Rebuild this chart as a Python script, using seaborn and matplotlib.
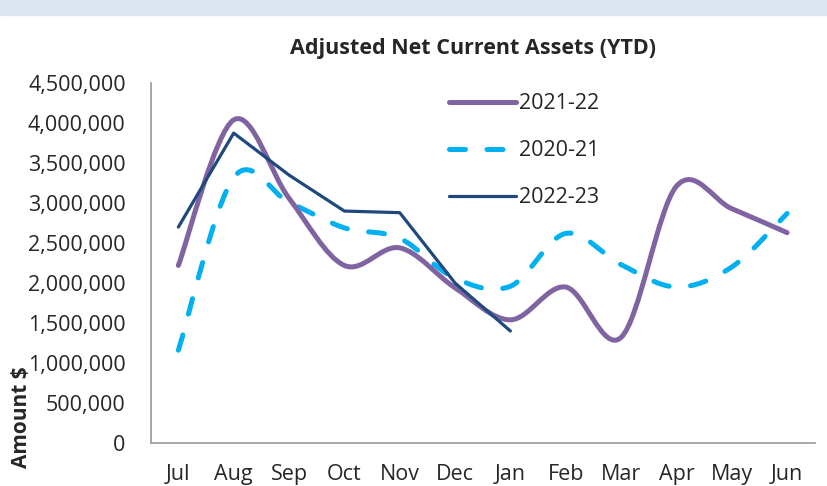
import numpy as np
import matplotlib
matplotlib.use('Agg')
import matplotlib.pyplot as plt
from matplotlib.path import Path
from matplotlib.patches import PathPatch, Rectangle
from matplotlib.lines import Line2D
import seaborn as sns

months = ['Jul', 'Aug', 'Sep', 'Oct', 'Nov', 'Dec', 'Jan', 'Feb', 'Mar', 'Apr', 'May', 'Jun']
fy2122 = [2220000, 4040000, 3060000, 2220000, 2440000, 1940000, 1540000, 1950000, 1320000, 3210000, 2930000, 2630000]
fy2021 = [1160000, 3320000, 3010000, 2690000, 2560000, 2060000, 1960000, 2620000, 2230000, 1950000, 2200000, 2870000]
fy2223 = [2700000, 3875000, 3350000, 2900000, 2880000, 2000000, 1400000]
yticks = [0, 500000, 1000000, 1500000, 2000000, 2500000, 3000000, 3500000, 4000000, 4500000]


def smooth_path(xs, ys):
    # Excel style smoothed line: cubic bezier through each point
    pts = np.column_stack([xs, ys]).astype(float)
    n = len(pts)
    verts = [pts[0]]
    codes = [Path.MOVETO]
    for i in range(n - 1):
        p0 = pts[max(i - 1, 0)]
        p1 = pts[i]
        p2 = pts[i + 1]
        p3 = pts[min(i + 2, n - 1)]
        c1 = p1 + (p2 - p0) / 6.0
        c2 = p2 - (p3 - p1) / 6.0
        verts += [c1, c2, p2]
        codes += [Path.CURVE4] * 3
    return Path(verts, codes)


sns.set_style('white')
plt.rcParams['font.family'] = ['Open Sans', 'DejaVu Sans']
plt.rcParams['lines.scale_dashes'] = False

purple = '#8064A2'
cyan = '#00B0F0'
navy = '#1F497D'

fig = plt.figure(figsize=(8.28, 4.86), dpi=100)
fig.patches.append(Rectangle((0, 0.969), 1, 0.031, transform=fig.transFigure,
                             color='#DCE6F0', zorder=0))
ax = fig.add_axes([0.182, 0.0885, 0.802, 0.7405])

xpos = np.arange(len(months)) + 0.5

ax.add_patch(PathPatch(smooth_path(xpos, fy2021), fill=False, edgecolor=cyan, lw=3.6,
                       linestyle=(0, (11.5, 15.5)), capstyle='round', joinstyle='round', zorder=2))
ax.add_patch(PathPatch(smooth_path(xpos, fy2122), fill=False, edgecolor=purple, lw=3.6,
                       capstyle='round', joinstyle='round', zorder=3))
sns.lineplot(x=xpos[:len(fy2223)], y=fy2223, ax=ax, color=navy, lw=2.3,
             solid_capstyle='round', zorder=4)

ax.set_xlim(0, 12)
ax.set_ylim(0, 4500000)
ax.set_yticks(yticks)
ax.set_yticklabels([f'{v:,}' for v in yticks], fontsize=15.5)
ax.set_xticks(np.arange(13))
ax.set_xticklabels([])
ax.set_xticks(xpos, minor=True)
ax.set_xticklabels(months, minor=True, fontsize=15.5)
ax.tick_params(axis='x', which='major', length=6, width=1, color='#A0A0A0', direction='out')
ax.tick_params(axis='x', which='minor', length=0, pad=15)
ax.tick_params(axis='y', length=6, width=1, color='#A0A0A0', direction='out', pad=12)
for s in ['top', 'right']:
    ax.spines[s].set_visible(False)
for s in ['left', 'bottom']:
    ax.spines[s].set_color('#A0A0A0')
    ax.spines[s].set_linewidth(1.3)

ax.set_title('Adjusted Net Current Assets (YTD)', fontsize=15.5, fontweight='bold',
             pad=21, x=0.4855)
fig.text(0.026, 0.142, 'Amount $', rotation=90, fontsize=15, fontweight='bold',
         ha='center', va='center')

handles = [
    Line2D([], [], color=purple, lw=3.6, solid_capstyle='round'),
    Line2D([], [], color=cyan, lw=3.6, linestyle=(0, (11.5, 15.5)), dash_capstyle='round'),
    Line2D([], [], color=navy, lw=2.3, solid_capstyle='round'),
]
ax.legend(handles, ['2021-22', '2020-21', '2022-23'], loc='upper left',
          bbox_to_anchor=(0.42, 1.025), frameon=False, fontsize=15.5,
          handlelength=3.1, handletextpad=0.15, labelspacing=1.2)

fig.savefig('out.png', dpi=100)
